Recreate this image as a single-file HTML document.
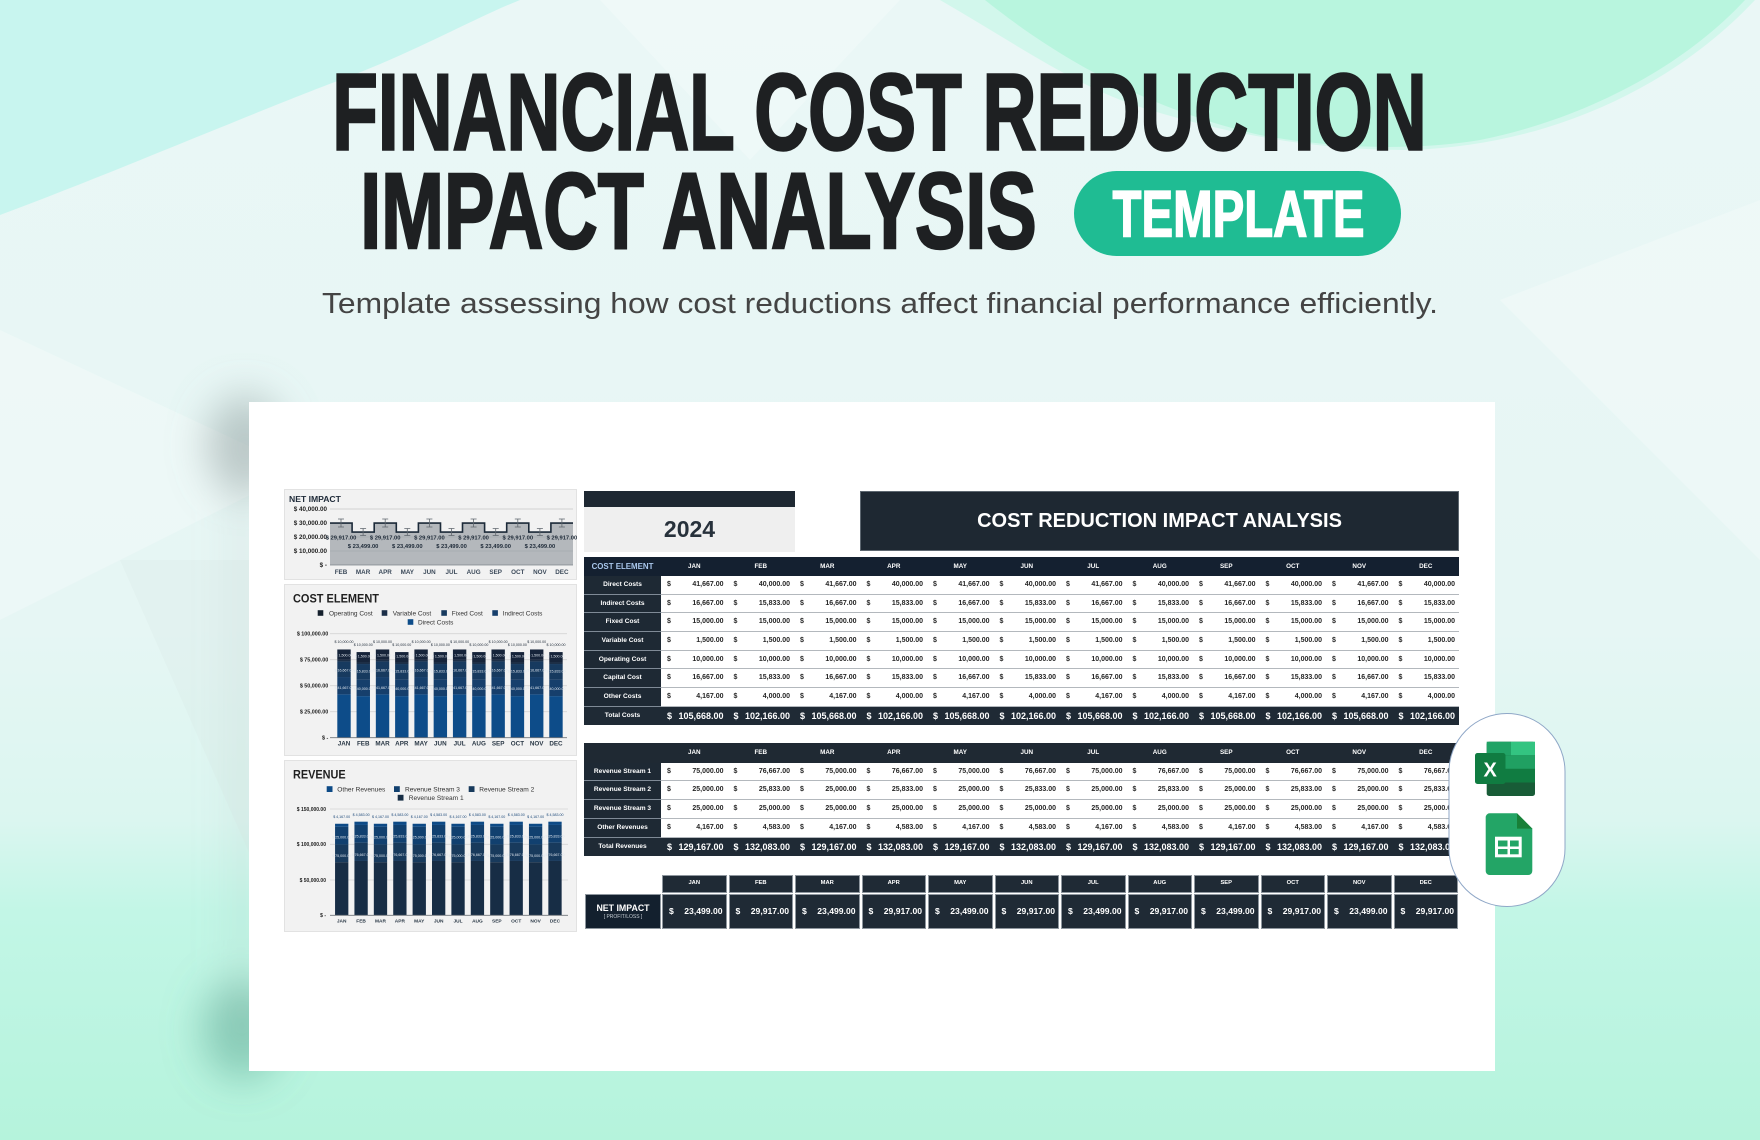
<!DOCTYPE html>
<html><head><meta charset="utf-8"><style>
*{margin:0;padding:0;box-sizing:border-box}
html,body{width:1760px;height:1140px;overflow:hidden}
body{position:relative;font-family:"Liberation Sans",sans-serif;background:#e8f6f5}
svg.l{position:absolute;left:0;top:0}
.card{position:absolute;left:249px;top:402px;width:1246px;height:669px;background:#fff;z-index:1}
.panel{position:absolute;left:284px;width:293px;background:#f2f2f2;border:1px solid #e2e2e2;z-index:2}
.yr{position:absolute;left:584px;top:491px;width:211px;height:61px;background:#efefef;z-index:2}
.yr .bar{height:16px;background:#1e2832}
.yr .t{font-weight:bold;font-size:23px;color:#27313b;text-align:center;line-height:45px}
.banner{position:absolute;left:860px;top:491px;width:599px;height:60px;background:#1e2832;border:1px solid #5d6770;color:#fff;font-weight:bold;font-size:20px;text-align:center;line-height:58px;z-index:2}
table{position:absolute;left:584px;width:875px;border-collapse:separate;border-spacing:0;table-layout:fixed;z-index:2}
td,th{padding:0;position:relative;white-space:nowrap;overflow:hidden}
th{background:#1e2934;color:#fff;font-size:6.6px;font-weight:bold;text-align:center;box-shadow:inset 0 -1px 0 #7f8a96}
thead th{background:#142030;font-size:6.3px;box-shadow:none}
table.rev thead th{background:#1f2933}
thead th.ce{color:#a9c7ec;font-size:7.9px}
td{background:#fff;box-shadow:inset 0 -1px 0 #b3b8bd;font-size:7px;font-weight:bold;color:#262626}
td i{position:absolute;left:6px;top:0;font-style:normal}
td b{position:absolute;right:4px;top:0}
tr.tot td,tr.tot th{background:#1f2a35;color:#fff;box-shadow:none}
tr.tot td{font-size:9px}
table.cost{top:557px}
table.cost thead tr{height:19px}table.cost thead th{line-height:19px}
table.cost tbody tr{height:18.67px}table.cost tbody td,table.cost tbody th{line-height:18.67px}
table.rev{top:743.3px}
table.rev thead tr{height:19.4px}table.rev thead th{line-height:19.4px}
table.rev tbody tr{height:18.7px}table.rev tbody td,table.rev tbody th{line-height:18.7px}
.nh,.nv,.nl{position:absolute;background:#1f2a35;border:1px solid #8e969e;color:#fff;font-weight:bold;z-index:2}
.nh{top:875px;height:17.5px;width:64.5px;font-size:5.8px;text-align:center;line-height:15.5px}
.nv{top:894px;height:35.3px;width:64.5px;font-size:8.6px;line-height:33.3px}
.nv i{position:absolute;left:6px;top:0;font-style:normal}
.nv b{position:absolute;right:3px;top:0}
.nl{left:585px;top:894px;width:76px;height:35.3px;background:#13202e;text-align:center}
.nl .a{font-size:8.8px;line-height:9px;margin-top:9px}
.nl .b{font-size:5px;color:#c5ccd3;font-weight:normal;line-height:7px;margin-top:1px}
</style></head><body>

<svg class="l" width="1760" height="1140" style="z-index:0">
<defs>
<linearGradient id="bg" x1="0" y1="0" x2="0" y2="1">
<stop offset="0" stop-color="#eaf7f6"/>
<stop offset="0.55" stop-color="#e6f6f4"/>
<stop offset="0.72" stop-color="#dbf6f0"/>
<stop offset="0.80" stop-color="#c2f6e6"/>
<stop offset="1" stop-color="#b5f3dc"/>
</linearGradient>
<filter id="blur" x="-100%" y="-100%" width="300%" height="300%"><feGaussianBlur stdDeviation="20"/></filter>
</defs>
<rect width="1760" height="1140" fill="url(#bg)"/>
<polygon points="0,330 300,470 0,620" fill="#ffffff" opacity="0.25"/>
<polygon points="120,560 420,560 270,900" fill="#d9e6e5" opacity="0.25"/>
<polygon points="1500,300 1760,200 1760,560" fill="#ffffff" opacity="0.25"/>
<polygon points="600,0 900,0 750,160" fill="#ffffff" opacity="0.25"/>
<path d="M0,0 L0,215 C120,170 260,110 340,80 C420,50 470,20 520,0 Z" fill="#c8f5ef"/>
<path d="M940,0 C1010,40 1080,90 1150,110 C1250,140 1330,150 1410,150 C1560,145 1680,80 1755,0 Z" fill="#d2f7ec"/>
<path d="M985,0 C1060,60 1150,110 1260,135 C1340,150 1420,150 1480,140 C1580,120 1680,70 1745,0 Z" fill="#b8f5de"/>
<g filter="url(#blur)">
<ellipse cx="245" cy="445" rx="38" ry="50" fill="#7f8d8d" opacity="0.45"/>
<ellipse cx="242" cy="1030" rx="40" ry="50" fill="#4c9a84" opacity="0.45"/>
<rect x="232" y="470" width="18" height="560" fill="#9aacab" opacity="0.2"/>
</g>
<text x="332.2" y="149.5" font-family="Liberation Sans" font-weight="bold" font-size="108.9" textLength="1094.5" lengthAdjust="spacingAndGlyphs" fill="#1e2022" stroke="#1e2022" stroke-width="2.5">FINANCIAL COST REDUCTION</text>
<text x="360.2" y="248" font-family="Liberation Sans" font-weight="bold" font-size="107.7" textLength="676.5" lengthAdjust="spacingAndGlyphs" fill="#1e2022" stroke="#1e2022" stroke-width="2.5">IMPACT ANALYSIS</text>
<rect x="1074" y="171" width="327" height="85" rx="42.5" fill="#1fbc93"/>
<text x="1112.5" y="236.5" font-family="Liberation Sans" font-weight="bold" font-size="65.5" textLength="252" lengthAdjust="spacingAndGlyphs" fill="#fff" stroke="#fff" stroke-width="1.5">TEMPLATE</text>
<text x="322" y="313" font-family="Liberation Sans" font-size="29" textLength="1116" lengthAdjust="spacingAndGlyphs" fill="#444">Template assessing how cost reductions affect financial performance efficiently.</text>
</svg>

<div class="card"></div>
<div class="panel" style="top:489px;height:91px"></div>
<div class="panel" style="top:584px;height:172px"></div>
<div class="panel" style="top:760px;height:172px"></div>

<div class="yr"><div class="bar"></div><div class="t">2024</div></div>
<div class="banner">COST REDUCTION IMPACT ANALYSIS</div>

<table class="cost">
<colgroup><col style="width:77px"><col style="width:66.5px"><col style="width:66.5px"><col style="width:66.5px"><col style="width:66.5px"><col style="width:66.5px"><col style="width:66.5px"><col style="width:66.5px"><col style="width:66.5px"><col style="width:66.5px"><col style="width:66.5px"><col style="width:66.5px"><col style="width:66.5px"></colgroup>
<thead><tr><th class="ce">COST ELEMENT</th><th>JAN</th><th>FEB</th><th>MAR</th><th>APR</th><th>MAY</th><th>JUN</th><th>JUL</th><th>AUG</th><th>SEP</th><th>OCT</th><th>NOV</th><th>DEC</th></tr></thead>
<tbody>
<tr><th>Direct Costs</th><td><i>$</i><b>41,667.00</b></td><td><i>$</i><b>40,000.00</b></td><td><i>$</i><b>41,667.00</b></td><td><i>$</i><b>40,000.00</b></td><td><i>$</i><b>41,667.00</b></td><td><i>$</i><b>40,000.00</b></td><td><i>$</i><b>41,667.00</b></td><td><i>$</i><b>40,000.00</b></td><td><i>$</i><b>41,667.00</b></td><td><i>$</i><b>40,000.00</b></td><td><i>$</i><b>41,667.00</b></td><td><i>$</i><b>40,000.00</b></td></tr>
<tr><th>Indirect Costs</th><td><i>$</i><b>16,667.00</b></td><td><i>$</i><b>15,833.00</b></td><td><i>$</i><b>16,667.00</b></td><td><i>$</i><b>15,833.00</b></td><td><i>$</i><b>16,667.00</b></td><td><i>$</i><b>15,833.00</b></td><td><i>$</i><b>16,667.00</b></td><td><i>$</i><b>15,833.00</b></td><td><i>$</i><b>16,667.00</b></td><td><i>$</i><b>15,833.00</b></td><td><i>$</i><b>16,667.00</b></td><td><i>$</i><b>15,833.00</b></td></tr>
<tr><th>Fixed Cost</th><td><i>$</i><b>15,000.00</b></td><td><i>$</i><b>15,000.00</b></td><td><i>$</i><b>15,000.00</b></td><td><i>$</i><b>15,000.00</b></td><td><i>$</i><b>15,000.00</b></td><td><i>$</i><b>15,000.00</b></td><td><i>$</i><b>15,000.00</b></td><td><i>$</i><b>15,000.00</b></td><td><i>$</i><b>15,000.00</b></td><td><i>$</i><b>15,000.00</b></td><td><i>$</i><b>15,000.00</b></td><td><i>$</i><b>15,000.00</b></td></tr>
<tr><th>Variable Cost</th><td><i>$</i><b>1,500.00</b></td><td><i>$</i><b>1,500.00</b></td><td><i>$</i><b>1,500.00</b></td><td><i>$</i><b>1,500.00</b></td><td><i>$</i><b>1,500.00</b></td><td><i>$</i><b>1,500.00</b></td><td><i>$</i><b>1,500.00</b></td><td><i>$</i><b>1,500.00</b></td><td><i>$</i><b>1,500.00</b></td><td><i>$</i><b>1,500.00</b></td><td><i>$</i><b>1,500.00</b></td><td><i>$</i><b>1,500.00</b></td></tr>
<tr><th>Operating Cost</th><td><i>$</i><b>10,000.00</b></td><td><i>$</i><b>10,000.00</b></td><td><i>$</i><b>10,000.00</b></td><td><i>$</i><b>10,000.00</b></td><td><i>$</i><b>10,000.00</b></td><td><i>$</i><b>10,000.00</b></td><td><i>$</i><b>10,000.00</b></td><td><i>$</i><b>10,000.00</b></td><td><i>$</i><b>10,000.00</b></td><td><i>$</i><b>10,000.00</b></td><td><i>$</i><b>10,000.00</b></td><td><i>$</i><b>10,000.00</b></td></tr>
<tr><th>Capital Cost</th><td><i>$</i><b>16,667.00</b></td><td><i>$</i><b>15,833.00</b></td><td><i>$</i><b>16,667.00</b></td><td><i>$</i><b>15,833.00</b></td><td><i>$</i><b>16,667.00</b></td><td><i>$</i><b>15,833.00</b></td><td><i>$</i><b>16,667.00</b></td><td><i>$</i><b>15,833.00</b></td><td><i>$</i><b>16,667.00</b></td><td><i>$</i><b>15,833.00</b></td><td><i>$</i><b>16,667.00</b></td><td><i>$</i><b>15,833.00</b></td></tr>
<tr><th>Other Costs</th><td><i>$</i><b>4,167.00</b></td><td><i>$</i><b>4,000.00</b></td><td><i>$</i><b>4,167.00</b></td><td><i>$</i><b>4,000.00</b></td><td><i>$</i><b>4,167.00</b></td><td><i>$</i><b>4,000.00</b></td><td><i>$</i><b>4,167.00</b></td><td><i>$</i><b>4,000.00</b></td><td><i>$</i><b>4,167.00</b></td><td><i>$</i><b>4,000.00</b></td><td><i>$</i><b>4,167.00</b></td><td><i>$</i><b>4,000.00</b></td></tr>
<tr class="tot"><th>Total Costs</th><td><i>$</i><b>105,668.00</b></td><td><i>$</i><b>102,166.00</b></td><td><i>$</i><b>105,668.00</b></td><td><i>$</i><b>102,166.00</b></td><td><i>$</i><b>105,668.00</b></td><td><i>$</i><b>102,166.00</b></td><td><i>$</i><b>105,668.00</b></td><td><i>$</i><b>102,166.00</b></td><td><i>$</i><b>105,668.00</b></td><td><i>$</i><b>102,166.00</b></td><td><i>$</i><b>105,668.00</b></td><td><i>$</i><b>102,166.00</b></td></tr>
</tbody></table>

<table class="rev">
<colgroup><col style="width:77px"><col style="width:66.5px"><col style="width:66.5px"><col style="width:66.5px"><col style="width:66.5px"><col style="width:66.5px"><col style="width:66.5px"><col style="width:66.5px"><col style="width:66.5px"><col style="width:66.5px"><col style="width:66.5px"><col style="width:66.5px"><col style="width:66.5px"></colgroup>
<thead><tr><th></th><th>JAN</th><th>FEB</th><th>MAR</th><th>APR</th><th>MAY</th><th>JUN</th><th>JUL</th><th>AUG</th><th>SEP</th><th>OCT</th><th>NOV</th><th>DEC</th></tr></thead>
<tbody>
<tr><th>Revenue Stream 1</th><td><i>$</i><b>75,000.00</b></td><td><i>$</i><b>76,667.00</b></td><td><i>$</i><b>75,000.00</b></td><td><i>$</i><b>76,667.00</b></td><td><i>$</i><b>75,000.00</b></td><td><i>$</i><b>76,667.00</b></td><td><i>$</i><b>75,000.00</b></td><td><i>$</i><b>76,667.00</b></td><td><i>$</i><b>75,000.00</b></td><td><i>$</i><b>76,667.00</b></td><td><i>$</i><b>75,000.00</b></td><td><i>$</i><b>76,667.00</b></td></tr>
<tr><th>Revenue Stream 2</th><td><i>$</i><b>25,000.00</b></td><td><i>$</i><b>25,833.00</b></td><td><i>$</i><b>25,000.00</b></td><td><i>$</i><b>25,833.00</b></td><td><i>$</i><b>25,000.00</b></td><td><i>$</i><b>25,833.00</b></td><td><i>$</i><b>25,000.00</b></td><td><i>$</i><b>25,833.00</b></td><td><i>$</i><b>25,000.00</b></td><td><i>$</i><b>25,833.00</b></td><td><i>$</i><b>25,000.00</b></td><td><i>$</i><b>25,833.00</b></td></tr>
<tr><th>Revenue Stream 3</th><td><i>$</i><b>25,000.00</b></td><td><i>$</i><b>25,000.00</b></td><td><i>$</i><b>25,000.00</b></td><td><i>$</i><b>25,000.00</b></td><td><i>$</i><b>25,000.00</b></td><td><i>$</i><b>25,000.00</b></td><td><i>$</i><b>25,000.00</b></td><td><i>$</i><b>25,000.00</b></td><td><i>$</i><b>25,000.00</b></td><td><i>$</i><b>25,000.00</b></td><td><i>$</i><b>25,000.00</b></td><td><i>$</i><b>25,000.00</b></td></tr>
<tr><th>Other Revenues</th><td><i>$</i><b>4,167.00</b></td><td><i>$</i><b>4,583.00</b></td><td><i>$</i><b>4,167.00</b></td><td><i>$</i><b>4,583.00</b></td><td><i>$</i><b>4,167.00</b></td><td><i>$</i><b>4,583.00</b></td><td><i>$</i><b>4,167.00</b></td><td><i>$</i><b>4,583.00</b></td><td><i>$</i><b>4,167.00</b></td><td><i>$</i><b>4,583.00</b></td><td><i>$</i><b>4,167.00</b></td><td><i>$</i><b>4,583.00</b></td></tr>
<tr class="tot"><th>Total Revenues</th><td><i>$</i><b>129,167.00</b></td><td><i>$</i><b>132,083.00</b></td><td><i>$</i><b>129,167.00</b></td><td><i>$</i><b>132,083.00</b></td><td><i>$</i><b>129,167.00</b></td><td><i>$</i><b>132,083.00</b></td><td><i>$</i><b>129,167.00</b></td><td><i>$</i><b>132,083.00</b></td><td><i>$</i><b>129,167.00</b></td><td><i>$</i><b>132,083.00</b></td><td><i>$</i><b>129,167.00</b></td><td><i>$</i><b>132,083.00</b></td></tr>
</tbody></table>

<div class="nh" style="left:662px">JAN</div><div class="nh" style="left:728.5px">FEB</div><div class="nh" style="left:795px">MAR</div><div class="nh" style="left:861.5px">APR</div><div class="nh" style="left:928px">MAY</div><div class="nh" style="left:994.5px">JUN</div><div class="nh" style="left:1061px">JUL</div><div class="nh" style="left:1127.5px">AUG</div><div class="nh" style="left:1194px">SEP</div><div class="nh" style="left:1260.5px">OCT</div><div class="nh" style="left:1327px">NOV</div><div class="nh" style="left:1393.5px">DEC</div>
<div class="nl"><div class="a">NET IMPACT</div><div class="b">[ PROFIT/LOSS ]</div></div>
<div class="nv" style="left:662px"><i>$</i><b>23,499.00</b></div><div class="nv" style="left:728.5px"><i>$</i><b>29,917.00</b></div><div class="nv" style="left:795px"><i>$</i><b>23,499.00</b></div><div class="nv" style="left:861.5px"><i>$</i><b>29,917.00</b></div><div class="nv" style="left:928px"><i>$</i><b>23,499.00</b></div><div class="nv" style="left:994.5px"><i>$</i><b>29,917.00</b></div><div class="nv" style="left:1061px"><i>$</i><b>23,499.00</b></div><div class="nv" style="left:1127.5px"><i>$</i><b>29,917.00</b></div><div class="nv" style="left:1194px"><i>$</i><b>23,499.00</b></div><div class="nv" style="left:1260.5px"><i>$</i><b>29,917.00</b></div><div class="nv" style="left:1327px"><i>$</i><b>23,499.00</b></div><div class="nv" style="left:1393.5px"><i>$</i><b>29,917.00</b></div>

<svg class="l" width="1760" height="1140" style="z-index:3" font-family="Liberation Sans, sans-serif">
<defs>
<clipPath id="c1"><rect x="284" y="489" width="293" height="91"/></clipPath>
<g id="cA"><rect y="694.37" width="13.4" height="43.33" fill="#0d4c89"/><rect y="677.03" width="13.4" height="17.34" fill="#163f6c"/><rect y="661.43" width="13.4" height="15.6" fill="#173a5f"/><rect y="659.87" width="13.4" height="1.56" fill="#1b2f48"/><rect y="649.47" width="13.4" height="10.4" fill="#16243a"/></g>
<g id="cB"><rect y="696.1" width="13.4" height="41.6" fill="#0d4c89"/><rect y="679.63" width="13.4" height="16.47" fill="#163f6c"/><rect y="664.03" width="13.4" height="15.6" fill="#173a5f"/><rect y="662.47" width="13.4" height="1.56" fill="#1b2f48"/><rect y="652.07" width="13.4" height="10.4" fill="#16243a"/></g>
<g id="rA"><rect y="862.15" width="13.3" height="53.15" fill="#172d45"/><rect y="844.43" width="13.3" height="17.72" fill="#183a5c"/><rect y="826.71" width="13.3" height="17.72" fill="#11406f"/><rect y="823.76" width="13.3" height="2.95" fill="#0d4a86"/></g>
<g id="rB"><rect y="860.97" width="13.3" height="54.33" fill="#172d45"/><rect y="842.66" width="13.3" height="18.31" fill="#183a5c"/><rect y="824.94" width="13.3" height="17.72" fill="#11406f"/><rect y="821.69" width="13.3" height="3.25" fill="#0d4a86"/></g>
</defs>

<g clip-path="url(#c1)">
<text x="289" y="502" font-size="8.6" font-weight="bold" fill="#1e2a38">NET IMPACT</text>
<g font-size="6.3" font-weight="bold" fill="#222" text-anchor="end">
<text x="327" y="511.2">$ 40,000.00</text><text x="327" y="525.2">$ 30,000.00</text><text x="327" y="539.2">$ 20,000.00</text><text x="327" y="553.2">$ 10,000.00</text><text x="327" y="567.2">$ -</text>
</g>
<line x1="330" x2="573" y1="509" y2="509" stroke="#c9c9c9" stroke-width="0.8"/>
<path d="M330,565 L330,523.1 L352.1,523.1 L352.1,532.1 L374.2,532.1 L374.2,523.1 L396.3,523.1 L396.3,532.1 L418.4,532.1 L418.4,523.1 L440.5,523.1 L440.5,532.1 L462.5,532.1 L462.5,523.1 L484.6,523.1 L484.6,532.1 L506.7,532.1 L506.7,523.1 L528.8,523.1 L528.8,532.1 L550.9,532.1 L550.9,523.1 L573,523.1 L573,565 Z" fill="#b4b8bc"/>
<line x1="330" x2="573" y1="537" y2="537" stroke="#9ea3a8" stroke-width="0.6"/>
<line x1="330" x2="573" y1="551" y2="551" stroke="#9ea3a8" stroke-width="0.6"/>
<line x1="330" x2="573" y1="565" y2="565" stroke="#7d848a" stroke-width="0.8"/>
<path d="M330,523.1 L352.1,523.1 L352.1,532.1 L374.2,532.1 L374.2,523.1 L396.3,523.1 L396.3,532.1 L418.4,532.1 L418.4,523.1 L440.5,523.1 L440.5,532.1 L462.5,532.1 L462.5,523.1 L484.6,523.1 L484.6,532.1 L506.7,532.1 L506.7,523.1 L528.8,523.1 L528.8,532.1 L550.9,532.1 L550.9,523.1 L573,523.1" fill="none" stroke="#1c2a39" stroke-width="1.6"/>
<path d="M341,519V527M338,519H344M338,527H344M385.2,519V527M382.2,519H388.2M382.2,527H388.2M429.4,519V527M426.4,519H432.4M426.4,527H432.4M473.6,519V527M470.6,519H476.6M470.6,527H476.6M517.8,519V527M514.8,519H520.8M514.8,527H520.8M561.9,519V527M558.9,519H564.9M558.9,527H564.9M363.1,528.5V535.5M360.1,528.5H366.1M360.1,535.5H366.1M407.3,528.5V535.5M404.3,528.5H410.3M404.3,535.5H410.3M451.5,528.5V535.5M448.5,528.5H454.5M448.5,535.5H454.5M495.7,528.5V535.5M492.7,528.5H498.7M492.7,535.5H498.7M539.9,528.5V535.5M536.9,528.5H542.9M536.9,535.5H542.9" fill="none" stroke="#5f666d" stroke-width="0.8"/>
<g font-size="5.8" font-weight="bold" fill="#1e2a38" text-anchor="middle">
<text x="341" y="539.6">$ 29,917.00</text><text x="385.2" y="539.6">$ 29,917.00</text><text x="429.4" y="539.6">$ 29,917.00</text><text x="473.6" y="539.6">$ 29,917.00</text><text x="517.8" y="539.6">$ 29,917.00</text><text x="561.9" y="539.6">$ 29,917.00</text>
<text x="363.1" y="548">$ 23,499.00</text><text x="407.3" y="548">$ 23,499.00</text><text x="451.5" y="548">$ 23,499.00</text><text x="495.7" y="548">$ 23,499.00</text><text x="539.9" y="548">$ 23,499.00</text>
</g>
<g font-size="6.3" font-weight="bold" fill="#3c4a5a" text-anchor="middle">
<text x="341" y="574">FEB</text><text x="363.1" y="574">MAR</text><text x="385.2" y="574">APR</text><text x="407.3" y="574">MAY</text><text x="429.4" y="574">JUN</text><text x="451.5" y="574">JUL</text><text x="473.6" y="574">AUG</text><text x="495.7" y="574">SEP</text><text x="517.8" y="574">OCT</text><text x="539.9" y="574">NOV</text><text x="561.9" y="574">DEC</text>
</g>
</g>

<text x="293" y="602.5" font-size="12" font-weight="bold" fill="#1f1f1f" textLength="86" lengthAdjust="spacingAndGlyphs">COST ELEMENT</text>
<rect x="317.7" y="610.2" width="5.6" height="5.6" fill="#15202d"/><rect x="381.7" y="610.2" width="5.6" height="5.6" fill="#1b2f48"/><rect x="441.3" y="610.2" width="5.6" height="5.6" fill="#173a5f"/><rect x="492.3" y="610.2" width="5.6" height="5.6" fill="#163f6c"/><rect x="407.7" y="619.2" width="5.6" height="5.6" fill="#0d4c89"/>
<g font-size="6.5" fill="#333">
<text x="329" y="615.3">Operating Cost</text><text x="392.7" y="615.3">Variable Cost</text><text x="451.7" y="615.3">Fixed Cost</text><text x="502.7" y="615.3">Indirect Costs</text><text x="418" y="624.3">Direct Costs</text>
</g>
<g font-size="5.4" font-weight="bold" fill="#222" text-anchor="end">
<text x="328.3" y="635.6">$ 100,000.00</text><text x="328.3" y="661.6">$ 75,000.00</text><text x="328.3" y="687.6">$ 50,000.00</text><text x="328.3" y="713.6">$ 25,000.00</text><text x="328.3" y="739.6">$ -</text>
</g>
<g stroke="#d4d4d4" stroke-width="0.8"><line x1="330" x2="567" y1="633.7" y2="633.7"/><line x1="330" x2="567" y1="659.7" y2="659.7"/><line x1="330" x2="567" y1="685.7" y2="685.7"/><line x1="330" x2="567" y1="711.7" y2="711.7"/></g>
<use href="#cA" x="337.3"/><use href="#cB" x="356.57"/><use href="#cA" x="375.84"/><use href="#cB" x="395.11"/><use href="#cA" x="414.38"/><use href="#cB" x="433.65"/><use href="#cA" x="452.92"/><use href="#cB" x="472.19"/><use href="#cA" x="491.46"/><use href="#cB" x="510.73"/><use href="#cA" x="530"/><use href="#cB" x="549.27"/>
<line x1="330" x2="567" y1="737.7" y2="737.7" stroke="#6f757b" stroke-width="0.8"/>
<g font-size="3.6" fill="#1e2a38" text-anchor="middle">
<text x="344" y="643">$ 10,000.00</text><text x="363.27" y="646">$ 10,000.00</text><text x="382.54" y="643">$ 10,000.00</text><text x="401.81" y="646">$ 10,000.00</text><text x="421.08" y="643">$ 10,000.00</text><text x="440.35" y="646">$ 10,000.00</text><text x="459.62" y="643">$ 10,000.00</text><text x="478.89" y="646">$ 10,000.00</text><text x="498.16" y="643">$ 10,000.00</text><text x="517.43" y="646">$ 10,000.00</text><text x="536.7" y="643">$ 10,000.00</text><text x="555.97" y="646">$ 10,000.00</text>
</g>
<g font-size="3.6" fill="#dfe6ee" text-anchor="middle">
<text x="344" y="656.5">$ 1,500.00</text><text x="363.27" y="657.5">$ 1,500.00</text><text x="382.54" y="656.5">$ 1,500.00</text><text x="401.81" y="657.5">$ 1,500.00</text><text x="421.08" y="656.5">$ 1,500.00</text><text x="440.35" y="657.5">$ 1,500.00</text><text x="459.62" y="656.5">$ 1,500.00</text><text x="478.89" y="657.5">$ 1,500.00</text><text x="498.16" y="656.5">$ 1,500.00</text><text x="517.43" y="657.5">$ 1,500.00</text><text x="536.7" y="656.5">$ 1,500.00</text><text x="555.97" y="657.5">$ 1,500.00</text>
<text x="344" y="671.3">$ 16,667.00</text><text x="363.27" y="672.3">$ 15,833.00</text><text x="382.54" y="671.3">$ 16,667.00</text><text x="401.81" y="672.3">$ 15,833.00</text><text x="421.08" y="671.3">$ 16,667.00</text><text x="440.35" y="672.3">$ 15,833.00</text><text x="459.62" y="671.3">$ 16,667.00</text><text x="478.89" y="672.3">$ 15,833.00</text><text x="498.16" y="671.3">$ 16,667.00</text><text x="517.43" y="672.3">$ 15,833.00</text><text x="536.7" y="671.3">$ 16,667.00</text><text x="555.97" y="672.3">$ 15,833.00</text>
<text x="344" y="689">$ 41,667.00</text><text x="363.27" y="690">$ 40,000.00</text><text x="382.54" y="689">$ 41,667.00</text><text x="401.81" y="690">$ 40,000.00</text><text x="421.08" y="689">$ 41,667.00</text><text x="440.35" y="690">$ 40,000.00</text><text x="459.62" y="689">$ 41,667.00</text><text x="478.89" y="690">$ 40,000.00</text><text x="498.16" y="689">$ 41,667.00</text><text x="517.43" y="690">$ 40,000.00</text><text x="536.7" y="689">$ 41,667.00</text><text x="555.97" y="690">$ 40,000.00</text>
</g>
<g font-size="6.3" font-weight="bold" fill="#2a3846" text-anchor="middle">
<text x="344" y="745.3">JAN</text><text x="363.27" y="745.3">FEB</text><text x="382.54" y="745.3">MAR</text><text x="401.81" y="745.3">APR</text><text x="421.08" y="745.3">MAY</text><text x="440.35" y="745.3">JUN</text><text x="459.62" y="745.3">JUL</text><text x="478.89" y="745.3">AUG</text><text x="498.16" y="745.3">SEP</text><text x="517.43" y="745.3">OCT</text><text x="536.7" y="745.3">NOV</text><text x="555.97" y="745.3">DEC</text>
</g>

<text x="293" y="778.5" font-size="12" font-weight="bold" fill="#1f1f1f" textLength="52.7" lengthAdjust="spacingAndGlyphs">REVENUE</text>
<rect x="326.7" y="786.2" width="5.8" height="5.8" fill="#0d4a86"/><rect x="394" y="786.2" width="5.8" height="5.8" fill="#11406f"/><rect x="468.7" y="786.2" width="5.8" height="5.8" fill="#183a5c"/><rect x="397.7" y="794.8" width="5.8" height="5.8" fill="#172d45"/>
<g font-size="6.6" fill="#333">
<text x="337.3" y="791.4">Other Revenues</text><text x="405" y="791.4">Revenue Stream 3</text><text x="479.3" y="791.4">Revenue Stream 2</text><text x="408.7" y="800">Revenue Stream 1</text>
</g>
<g font-size="5" font-weight="bold" fill="#222" text-anchor="end">
<text x="326" y="810.8">$ 150,000.00</text><text x="326" y="846.1">$ 100,000.00</text><text x="326" y="881.8">$ 50,000.00</text><text x="326" y="917.1">$ -</text>
</g>
<g stroke="#d4d4d4" stroke-width="0.8"><line x1="330" x2="568" y1="809" y2="809"/><line x1="330" x2="568" y1="844.3" y2="844.3"/><line x1="330" x2="568" y1="880" y2="880"/></g>
<use href="#rA" x="335.05"/><use href="#rB" x="354.44"/><use href="#rA" x="373.83"/><use href="#rB" x="393.22"/><use href="#rA" x="412.61"/><use href="#rB" x="432"/><use href="#rA" x="451.39"/><use href="#rB" x="470.78"/><use href="#rA" x="490.17"/><use href="#rB" x="509.56"/><use href="#rA" x="528.95"/><use href="#rB" x="548.35"/>
<line x1="330" x2="568" y1="915.3" y2="915.3" stroke="#6f757b" stroke-width="0.8"/>
<g font-size="3.6" fill="#1e4a7a" text-anchor="middle">
<text x="341.7" y="818">$ 4,167.00</text><text x="361.09" y="816">$ 4,583.00</text><text x="380.48" y="818">$ 4,167.00</text><text x="399.87" y="816">$ 4,583.00</text><text x="419.26" y="818">$ 4,167.00</text><text x="438.65" y="816">$ 4,583.00</text><text x="458.04" y="818">$ 4,167.00</text><text x="477.43" y="816">$ 4,583.00</text><text x="496.82" y="818">$ 4,167.00</text><text x="516.21" y="816">$ 4,583.00</text><text x="535.6" y="818">$ 4,167.00</text><text x="555" y="816">$ 4,583.00</text>
</g>
<g font-size="3.6" fill="#dfe6ee" text-anchor="middle">
<text x="341.7" y="838.5">$ 25,000.00</text><text x="361.09" y="837.5">$ 25,833.00</text><text x="380.48" y="838.5">$ 25,000.00</text><text x="399.87" y="837.5">$ 25,833.00</text><text x="419.26" y="838.5">$ 25,000.00</text><text x="438.65" y="837.5">$ 25,833.00</text><text x="458.04" y="838.5">$ 25,000.00</text><text x="477.43" y="837.5">$ 25,833.00</text><text x="496.82" y="838.5">$ 25,000.00</text><text x="516.21" y="837.5">$ 25,833.00</text><text x="535.6" y="838.5">$ 25,000.00</text><text x="555" y="837.5">$ 25,833.00</text>
<text x="341.7" y="857">$ 75,000.00</text><text x="361.09" y="856">$ 76,667.00</text><text x="380.48" y="857">$ 75,000.00</text><text x="399.87" y="856">$ 76,667.00</text><text x="419.26" y="857">$ 75,000.00</text><text x="438.65" y="856">$ 76,667.00</text><text x="458.04" y="857">$ 75,000.00</text><text x="477.43" y="856">$ 76,667.00</text><text x="496.82" y="857">$ 75,000.00</text><text x="516.21" y="856">$ 76,667.00</text><text x="535.6" y="857">$ 75,000.00</text><text x="555" y="856">$ 76,667.00</text>
</g>
<g font-size="4.8" font-weight="bold" fill="#2a3846" text-anchor="middle">
<text x="341.7" y="922.5">JAN</text><text x="361.09" y="922.5">FEB</text><text x="380.48" y="922.5">MAR</text><text x="399.87" y="922.5">APR</text><text x="419.26" y="922.5">MAY</text><text x="438.65" y="922.5">JUN</text><text x="458.04" y="922.5">JUL</text><text x="477.43" y="922.5">AUG</text><text x="496.82" y="922.5">SEP</text><text x="516.21" y="922.5">OCT</text><text x="535.6" y="922.5">NOV</text><text x="555" y="922.5">DEC</text>
</g>

<rect x="1449" y="713.5" width="116" height="193" rx="58" fill="#fff" stroke="#8fa7c7" stroke-width="1"/>
<rect x="1486.7" y="741.7" width="48.3" height="54.3" rx="2.5" fill="#185c37"/>
<rect x="1486.7" y="741.7" width="24.3" height="13.6" fill="#21a366"/>
<rect x="1511" y="741.7" width="24" height="13.6" fill="#33c481"/>
<rect x="1486.7" y="755.3" width="48.3" height="13.6" fill="#20a062"/>
<rect x="1486.7" y="768.9" width="48.3" height="13.6" fill="#107c41"/>
<rect x="1475" y="753" width="30.5" height="31" rx="2.5" fill="#107c41"/>
<text x="1490.2" y="776.5" font-size="20" font-weight="bold" fill="#fff" text-anchor="middle">X</text>
<path d="M1489.7,813.3 H1517 L1532.3,828.6 V871 a4,4 0 0 1 -4,4 H1489.7 a4,4 0 0 1 -4,-4 V817.3 a4,4 0 0 1 4,-4 Z" fill="#23a566"/>
<polygon points="1517,813.3 1532.3,828.6 1517,828.6" fill="#188038"/>
<rect x="1495" y="836.7" width="26.7" height="20.6" fill="#fff"/>
<rect x="1498" y="840.5" width="9.5" height="6" fill="#23a566"/>
<rect x="1510" y="840.5" width="8.7" height="6" fill="#23a566"/>
<rect x="1498" y="849" width="9.5" height="5.3" fill="#23a566"/>
<rect x="1510" y="849" width="8.7" height="5.3" fill="#23a566"/>
</svg>
</body></html>
